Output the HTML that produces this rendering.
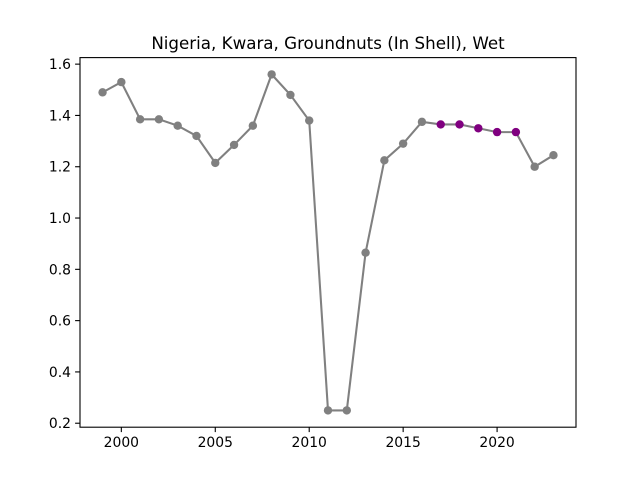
<!DOCTYPE html>
<html><head><meta charset="utf-8"><style>
body{margin:0;background:#fff;}
svg{display:block;font-family:"DejaVu Sans","Liberation Sans",sans-serif;}
</style></head><body>
<svg id="chart" width="640" height="480">
<text x="328" y="49" text-anchor="middle" font-size="16.7">Nigeria, Kwara, Groundnuts (In Shell), Wet</text>
<g id="plot"></g>
</svg>
<script>
const years=[1999,2000,2001,2002,2003,2004,2005,2006,2007,2008,2009,2010,2011,2012,2013,2014,2015,2016,2017,2018,2019,2020,2021,2022,2023];
const values=[1.49,1.53,1.385,1.385,1.36,1.32,1.215,1.285,1.36,1.56,1.48,1.38,0.25,0.25,0.865,1.225,1.29,1.375,1.365,1.365,1.35,1.335,1.335,1.2,1.245];
const highlightYears=[2017,2018,2019,2020,2021];
const xTicks=[2000,2005,2010,2015,2020];
const yTicks=[0.2,0.4,0.6,0.8,1.0,1.2,1.4,1.6];
const L=80,R=576,T=57.6,B=427.2;
const xmin=Math.min(...years),xmax=Math.max(...years),xm=(xmax-xmin)*0.05;
const vmin=Math.min(...values),vmax=Math.max(...values),ym=(vmax-vmin)*0.05;
const x=v=>L+(v-(xmin-xm))/((xmax+xm)-(xmin-xm))*(R-L);
const y=v=>B-(v-(vmin-ym))/((vmax+ym)-(vmin-ym))*(B-T);
const g=document.getElementById('plot');
const NS='http://www.w3.org/2000/svg';
function mk(t,a){const e=document.createElementNS(NS,t);for(const k in a)e.setAttribute(k,a[k]);g.appendChild(e);return e;}
xTicks.forEach(t=>{
  const l=mk('line',{x1:x(t),x2:x(t),y1:B,y2:B+4.9,stroke:'#000','stroke-width':1.1});
  
  
  const s=mk('text',{x:x(t),y:B+20,'text-anchor':'middle','font-size':13.9});
  s.textContent=t;
  
  
});
yTicks.forEach(t=>{
  const l=mk('line',{x1:L-4.9,x2:L,y1:y(t),y2:y(t),stroke:'#000','stroke-width':1.1});
  
  
  const s=mk('text',{x:L-9,y:y(t)+5,'text-anchor':'end','font-size':13.9});
  s.textContent=t.toFixed(1);
  
  
});
const p=mk('polyline',{points:years.map((yr,i)=>x(yr)+','+y(values[i])).join(' '),fill:'none',stroke:'#808080','stroke-width':2.08});


years.forEach((yr,i)=>{
  const hl=highlightYears.includes(yr);
  const c=mk('circle',{cx:x(yr),cy:y(values[i]),r:4.2,fill:hl?'#800080':'#808080'});
  
  
});
const f=mk('rect',{x:L,y:T,width:R-L,height:B-T,fill:'none',stroke:'#000','stroke-width':1.1});


</script>
</body></html>
